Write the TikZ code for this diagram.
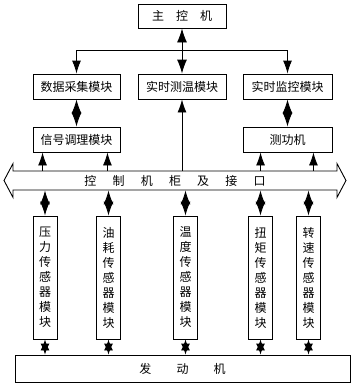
\documentclass[tikz,border=0pt]{standalone}
\usepackage{fontspec}
\setmainfont{Noto Sans CJK SC}
\usepackage{tikz}
\usetikzlibrary{positioning, arrows.meta, shapes.arrows, calc}

\begin{document}
\begin{tikzpicture}[x=1pt, y=-1pt, line width=0.9pt,
  box/.style={rectangle, draw, fill=white, minimum height=25pt, inner sep=1pt, font=\fontsize{12}{14}\selectfont},
  vbox/.style={rectangle, draw, fill=white, minimum width=24pt, minimum height=123pt, inner sep=1pt, align=center, font=\fontsize{12}{15}\selectfont},
  link/.style={-{Latex[length=13pt, width=9pt]}},
  both/.style={{Latex[length=14pt, width=10pt]}-{Latex[length=14pt, width=10pt]}},
  tiny/.style={{Latex[length=11pt, width=9pt]}-{Latex[length=11pt, width=9pt]}}]
\useasboundingbox (0,0) rectangle (355,386);

% top
\node[box, minimum width=88pt, minimum height=24pt] (host) at (182,16) {主\hspace{1em}控\hspace{1em}机};
\node[box, minimum width=87pt] (daq) at (76.5,86.5) {数据采集模块};
\node[box, minimum width=88pt] (temp) at (182,86.5) {实时测温模块};
\node[box, minimum width=89pt] (mon) at (287.5,86.5) {实时监控模块};
\node[box, minimum width=87pt] (cond) at (76.5,139.5) {信号调理模块};
\node[box, minimum width=89pt] (dyno) at (287.5,139.5) {测功机};
\coordinate (split) at (182,50);
\draw (daq.north |- split) -- (mon.north |- split);
\draw[link] (daq.north |- split) -- (daq.north);
\draw[link] (mon.north |- split) -- (mon.north);
\draw[both] (host) -- (temp);
\draw[both] (daq) -- (cond);
\draw[both] (mon) -- (dyno);

% bus
\node[double arrow, draw, fill=white, minimum height=342pt, minimum width=34pt,
  double arrow head extend=7.5pt, double arrow tip angle=124, inner xsep=2pt, inner ysep=3.5pt,
  font=\fontsize{12}{14}\selectfont] (bus) at (175,180.5)
  {控\hspace{1.35em}制\hspace{1.35em}机\hspace{1.35em}柜\hspace{1.35em}及\hspace{1.35em}接\hspace{1.35em}口};
\coordinate (c1) at ([xshift=10pt]cond.south west);
\coordinate (c2) at ([xshift=-13pt]cond.south east);
\coordinate (d1) at ([xshift=18pt]dyno.south west);
\coordinate (d2) at ([xshift=-19pt]dyno.south east);
\draw[link] (c1 |- bus.north) -- (c1);
\draw[link] (c2 |- bus.north) -- (c2);
\draw[link] (temp.south |- bus.north) -- (temp.south);
\draw[link] (d1 |- bus.north) -- (d1);
\draw[link] (d2 |- bus.north) -- (d2);

% sensors
\node[vbox] (press) at (45,277.5) {压\\力\\传\\感\\器\\模\\块};
\node[vbox] (fuel) at (108.5,277.5) {油\\耗\\传\\感\\器\\模\\块};
\node[vbox] (heat) at (185.5,277.5) {温\\度\\传\\感\\器\\模\\块};
\node[vbox] (torq) at (260.5,277.5) {扭\\矩\\传\\感\\器\\模\\块};
\node[vbox] (speed) at (308.5,277.5) {转\\速\\传\\感\\器\\模\\块};
\node[box, minimum width=335pt, minimum height=27pt] (engine) at (182.5,368.5) {发\hspace{2.1em}动\hspace{2.1em}机\hspace{1.2em}};
\foreach \s in {press, fuel, heat, torq, speed} {
  \draw[both] (\s.north |- bus.south) -- (\s.north);
  \draw[tiny] (\s.south) -- (\s.south |- engine.north);
}
\end{tikzpicture}
\end{document}
